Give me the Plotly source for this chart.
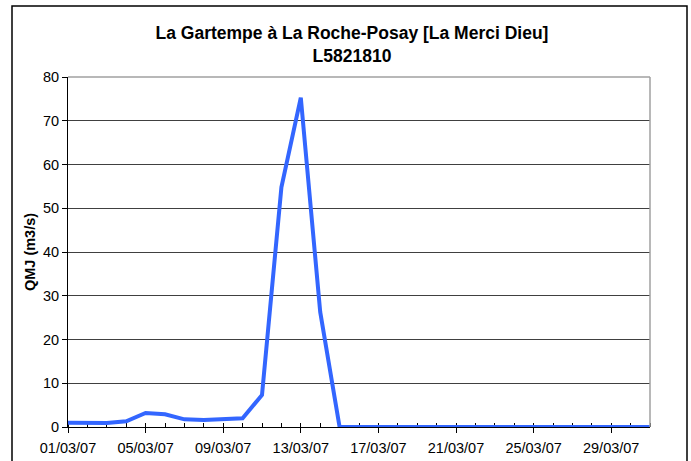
import plotly.graph_objects as go

dates = [f"2007-03-{d:02d}" for d in range(1, 32)]
qmj = [1.0, 1.0, 0.9, 1.3, 3.2, 2.9, 1.75, 1.6, 1.8, 2.0, 7.3, 54.8, 75.3, 26.3, 0.0,
       0, 0, 0, 0, 0, 0, 0, 0, 0, 0, 0, 0, 0, 0, 0, 0]

title_l1 = "La Gartempe à La Roche-Posay [La Merci Dieu]"
title_l2 = "L5821810"
y_title = "QMJ (m3/s)"

W, H = 691, 461
L, R, T, B = 68, 650, 77, 427
pw, ph = R - L, B - T

fig = go.Figure()
fig.add_trace(go.Scatter(x=dates, y=qmj, mode="lines",
                         line=dict(color="#3366FF", width=4),
                         cliponaxis=False, hoverinfo="skip"))

font = "Liberation Sans, Arial, sans-serif"
fig.update_layout(
    width=W, height=H,
    margin=dict(l=L, r=W - R, t=T, b=H - B),
    paper_bgcolor="white", plot_bgcolor="white",
    showlegend=False,
    font=dict(family=font, size=14, color="black"),
    title=dict(text=f"<b>{title_l1}<br>{title_l2}</b>", x=352 / W, xanchor="center",
               y=1 - 39 / H, yanchor="middle", font=dict(size=17.5, family=font)),
    xaxis=dict(type="date", range=["2007-03-01", "2007-03-31"],
               tick0="2007-03-01", dtick=4 * 86400000, tickformat="%d/%m/%y",
               ticks="outside", ticklen=5, tickcolor="black", tickwidth=1,
               ticklabelstandoff=3, automargin=False,
               showline=True, linecolor="black", linewidth=1,
               showgrid=False, zeroline=False, layer="below traces",
               tickfont=dict(size=14.5),
               minor=dict(dtick=86400000, tick0="2007-03-01", ticks="inside",
                          ticklen=4, tickcolor="black", showgrid=False)),
    yaxis=dict(range=[0, 80], dtick=10, ticks="outside", ticklen=5, tickcolor="black",
               automargin=False,
               showline=True, linecolor="black", linewidth=1,
               showgrid=True, gridcolor="#404040", gridwidth=1, zeroline=False,
               tickfont=dict(size=14.5),
               title=dict(text=f"<b>{y_title}</b>", font=dict(size=14.5), standoff=3)),
    shapes=[
        dict(type="line", xref="paper", yref="paper", x0=0, x1=1, y0=1, y1=1,
             line=dict(color="#a0a0a0", width=1.5), layer="above"),
        dict(type="line", xref="paper", yref="paper", x0=1, x1=1, y0=0, y1=1,
             line=dict(color="#a0a0a0", width=1.5), layer="above"),
        dict(type="rect", xref="paper", yref="paper",
             x0=(12 - L) / pw, x1=(687 - L) / pw,
             y0=(B - 475) / ph, y1=(B - 6) / ph,
             line=dict(color="black", width=1.5), layer="above"),
    ],
)

fig.write_html("out.html", config={"displayModeBar": False},
               post_script="document.body.style.margin='0';")
